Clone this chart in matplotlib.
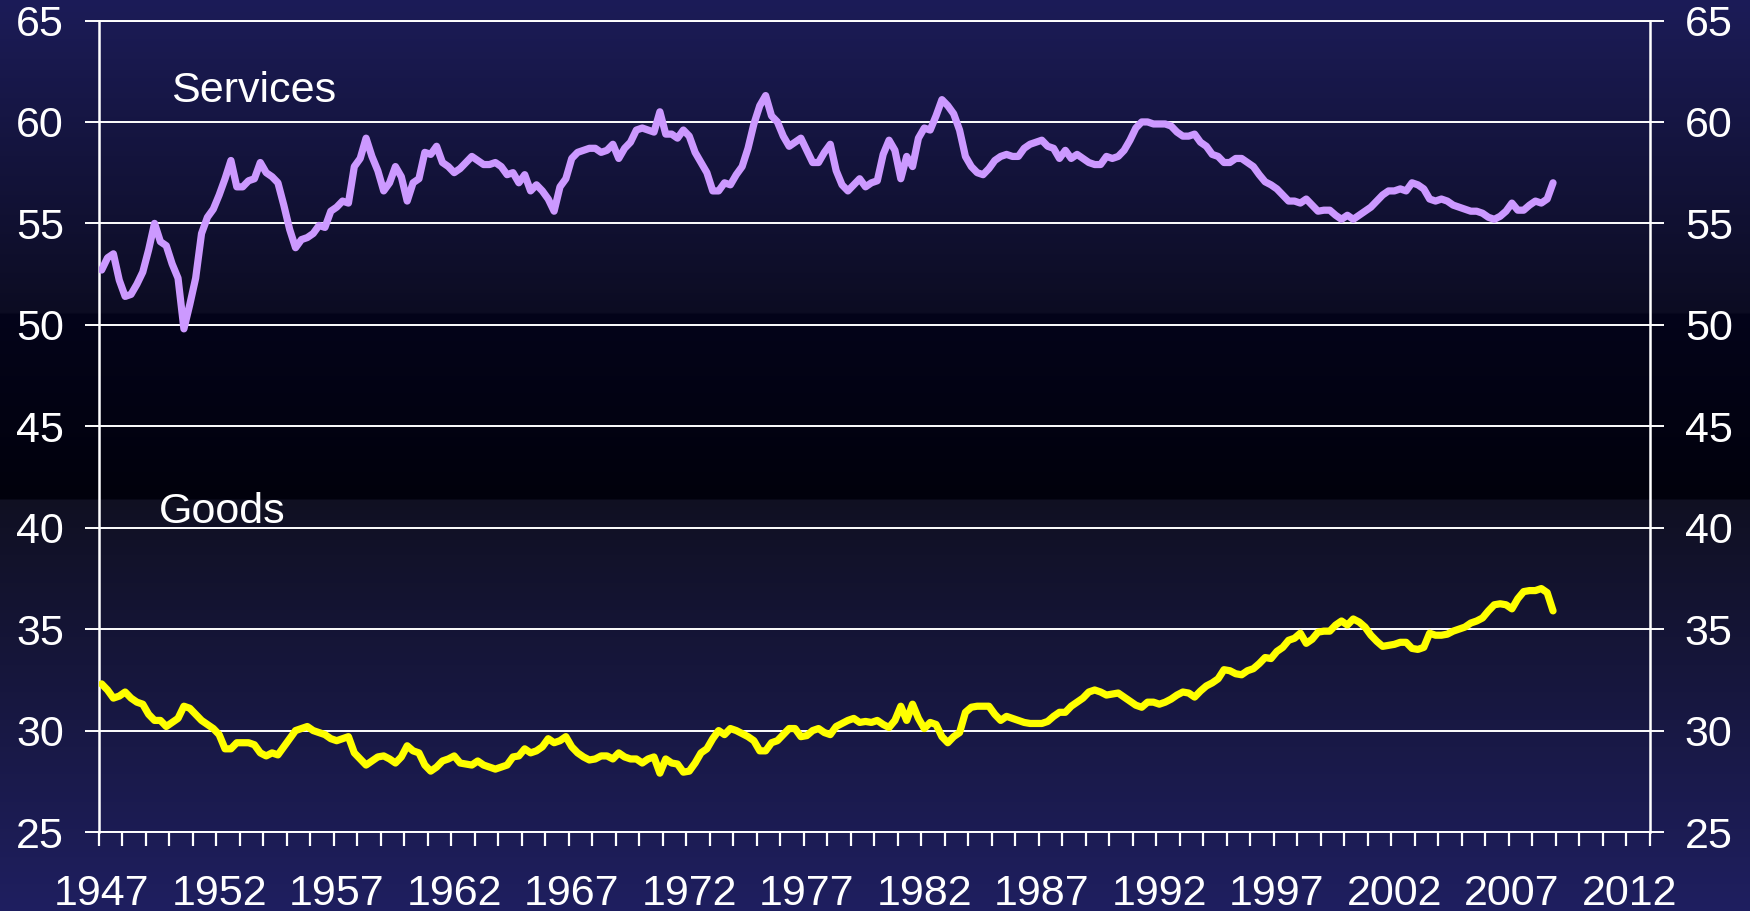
import numpy as np
import matplotlib
matplotlib.use("Agg")
import matplotlib.pyplot as plt

plt.rcParams['font.family'] = ['Liberation Sans', 'DejaVu Sans']

# quarterly shares, 1947Q1 .. 2008Q4 (one row = one year)
services = [
    52.7, 53.3, 53.5, 52.2,   # 1947
    51.4, 51.5, 52.0, 52.6,
    53.7, 55.0, 54.1, 53.9,
    53.0, 52.3, 49.8, 51.0,   # 1950
    52.3, 54.5, 55.3, 55.7,
    56.4, 57.2, 58.1, 56.8,
    56.8, 57.1, 57.2, 58.0,
    57.5, 57.3, 57.0, 55.9,
    54.7, 53.8, 54.2, 54.3,   # 1955
    54.5, 54.9, 54.8, 55.6,
    55.8, 56.1, 56.0, 57.8,
    58.2, 59.2, 58.3, 57.6,
    56.6, 57.0, 57.8, 57.3,
    56.1, 57.0, 57.2, 58.5,   # 1960
    58.4, 58.8, 58.0, 57.8,
    57.5, 57.7, 58.0, 58.3,
    58.1, 57.9, 57.9, 58.0,
    57.8, 57.4, 57.5, 57.0,
    57.4, 56.6, 56.9, 56.6,   # 1965
    56.2, 55.6, 56.8, 57.2,
    58.2, 58.5, 58.6, 58.7,
    58.7, 58.5, 58.6, 58.9,
    58.2, 58.7, 59.0, 59.6,
    59.7, 59.6, 59.5, 60.5,   # 1970
    59.4, 59.4, 59.2, 59.6,
    59.3, 58.5, 58.0, 57.5,
    56.6, 56.6, 57.0, 56.9,
    57.4, 57.8, 58.7, 59.9,
    60.8, 61.3, 60.3, 60.0,   # 1975
    59.3, 58.8, 59.0, 59.2,
    58.6, 58.0, 58.0, 58.5,
    58.9, 57.6, 56.9, 56.6,
    56.9, 57.2, 56.8, 57.0,
    57.1, 58.4, 59.1, 58.6,   # 1980
    57.2, 58.3, 57.8, 59.2,
    59.7, 59.6, 60.3, 61.1,
    60.8, 60.4, 59.6, 58.3,
    57.8, 57.5, 57.4, 57.7,
    58.1, 58.3, 58.4, 58.3,   # 1985
    58.3, 58.7, 58.9, 59.0,
    59.1, 58.8, 58.7, 58.2,
    58.6, 58.2, 58.4, 58.2,
    58.0, 57.9, 57.9, 58.3,
    58.2, 58.3, 58.6, 59.1,   # 1990
    59.7, 60.0, 60.0, 59.9,
    59.9, 59.9, 59.8, 59.5,
    59.3, 59.3, 59.4, 59.0,
    58.8, 58.4, 58.3, 58.0,
    58.0, 58.2, 58.2, 58.0,   # 1995
    57.8, 57.4, 57.05, 56.9,
    56.7, 56.4, 56.1, 56.1,
    56.0, 56.2, 55.9, 55.6,
    55.65, 55.65, 55.4, 55.2,
    55.4, 55.2, 55.4, 55.6,   # 2000
    55.8, 56.1, 56.4, 56.6,
    56.6, 56.7, 56.6, 57.0,
    56.9, 56.7, 56.2, 56.1,
    56.2, 56.1, 55.9, 55.8,
    55.7, 55.6, 55.6, 55.5,   # 2005
    55.3, 55.2, 55.35, 55.6,
    56.0, 55.65, 55.65, 55.9,
    56.1, 56.0, 56.2, 57.0,
]

goods = [
    32.3, 32.0, 31.6, 31.7,   # 1947
    31.9, 31.6, 31.4, 31.3,
    30.8, 30.5, 30.5, 30.2,
    30.4, 30.6, 31.2, 31.1,   # 1950
    30.8, 30.5, 30.3, 30.1,
    29.8, 29.1, 29.1, 29.4,
    29.4, 29.4, 29.3, 28.9,
    28.75, 28.9, 28.8, 29.2,
    29.6, 30.0, 30.1, 30.2,   # 1955
    30.0, 29.9, 29.8, 29.6,
    29.5, 29.6, 29.7, 28.9,
    28.6, 28.3, 28.5, 28.7,
    28.75, 28.6, 28.4, 28.7,
    29.25, 29.0, 28.9, 28.3,  # 1960
    28.0, 28.2, 28.5, 28.6,
    28.75, 28.4, 28.35, 28.3,
    28.5, 28.3, 28.2, 28.1,
    28.2, 28.3, 28.7, 28.75,
    29.1, 28.9, 29.0, 29.2,   # 1965
    29.6, 29.4, 29.5, 29.7,
    29.2, 28.9, 28.7, 28.55,
    28.6, 28.75, 28.75, 28.6,
    28.9, 28.7, 28.6, 28.6,
    28.4, 28.6, 28.7, 27.9,   # 1970
    28.6, 28.4, 28.35, 27.95,
    28.0, 28.4, 28.9, 29.1,
    29.6, 30.0, 29.8, 30.1,
    30.0, 29.85, 29.7, 29.5,
    29.0, 29.0, 29.4, 29.5,   # 1975
    29.8, 30.1, 30.1, 29.7,
    29.75, 30.0, 30.1, 29.9,
    29.8, 30.2, 30.35, 30.5,
    30.6, 30.4, 30.45, 30.4,
    30.5, 30.3, 30.15, 30.5,  # 1980
    31.2, 30.5, 31.3, 30.6,
    30.1, 30.4, 30.3, 29.7,
    29.4, 29.7, 29.9, 30.9,
    31.15, 31.2, 31.2, 31.2,
    30.8, 30.5, 30.7, 30.6,   # 1985
    30.5, 30.4, 30.35, 30.35,
    30.35, 30.45, 30.7, 30.9,
    30.9, 31.2, 31.4, 31.6,
    31.9, 32.0, 31.9, 31.75,
    31.8, 31.85, 31.65, 31.45,  # 1990
    31.25, 31.15, 31.4, 31.4,
    31.3, 31.4, 31.55, 31.75,
    31.9, 31.85, 31.65, 31.95,
    32.2, 32.35, 32.55, 33.0,
    32.95, 32.8, 32.75, 32.95,  # 1995
    33.05, 33.3, 33.6, 33.55,
    33.9, 34.1, 34.45, 34.55,
    34.8, 34.3, 34.5, 34.85,
    34.9, 34.9, 35.2, 35.4,
    35.2, 35.5, 35.35, 35.1,  # 2000
    34.7, 34.4, 34.15, 34.2,
    34.25, 34.35, 34.35, 34.05,
    34.0, 34.1, 34.8, 34.7,
    34.7, 34.75, 34.9, 35.0,
    35.1, 35.3, 35.4, 35.55,  # 2005
    35.9, 36.2, 36.25, 36.2,
    36.0, 36.5, 36.85, 36.9,
    36.9, 37.0, 36.8, 35.9,
]

year_labels = list(range(1947, 2013, 5))
y_ticks = list(range(25, 66, 5))

# quarter centres in decimal years
qx = 1947 + (np.arange(len(services)) + 0.5) / 4

fig = plt.figure(figsize=(17.5, 9.11), dpi=100)

# background gradient (navy -> black -> navy), rows from top
H = 911
stops_y = [0, 312, 314, 498, 500, H]
stops_c = np.array([[28, 28, 88], [12, 12, 34], [4, 4, 26],
                    [1, 1, 12], [16, 16, 34], [31, 31, 96]]) / 255.0
rows = np.arange(H)
grad = np.stack([np.interp(rows, stops_y, stops_c[:, k]) for k in range(3)], axis=1)
grad = grad[:, None, :]
bg = fig.add_axes([0, 0, 1, 1], zorder=0)
bg.imshow(grad, aspect='auto', extent=[0, 1, 0, 1], interpolation='bilinear')
bg.axis('off')

ax = fig.add_axes([98.7 / 1750, 79 / 911, 1551.3 / 1750, 811.5 / 911], zorder=1)
ax.set_facecolor('none')

ax.plot(qx, services, color='#cc99ff', lw=5.2, solid_joinstyle='round',
        solid_capstyle='round', zorder=3)
ax.plot(qx, goods, color='#ffff00', lw=5.2, solid_joinstyle='round',
        solid_capstyle='round', zorder=3)

ax.text(1950.08, 61.0, 'Services', color='white', fontsize=31, va='baseline')
ax.text(1949.55, 40.25, 'Goods', color='white', fontsize=31, va='baseline')

ax.set_xlim(1947, 2013)
ax.set_ylim(25, 65)
ax.set_yticks(y_ticks)
ax.set_yticklabels([str(v) for v in y_ticks])
ax.set_xticks(np.array(year_labels) + 0.125)
ax.set_xticklabels([str(y) for y in year_labels])
ax.set_xticks(np.arange(1947, 2014), minor=True)

ax.set_axisbelow(True)
ax.yaxis.grid(True, color='white', lw=1.4)
ax.xaxis.grid(False)

ax.tick_params(axis='y', which='major', left=True, right=True,
               labelleft=True, labelright=True, direction='out',
               length=10, width=1.4, color='white', labelcolor='white',
               labelsize=31, pad=15)
ax.tick_params(axis='x', which='major', length=0, labelcolor='white',
               labelsize=31, pad=30)
ax.tick_params(axis='x', which='minor', direction='out', length=10,
               width=1.6, color='white')

for side in ['left', 'right']:
    ax.spines[side].set_color('white')
    ax.spines[side].set_linewidth(1.8)
for side in ['top', 'bottom']:
    ax.spines[side].set_color('white')
    ax.spines[side].set_linewidth(1.4)

fig.savefig('out.png', dpi=100)
